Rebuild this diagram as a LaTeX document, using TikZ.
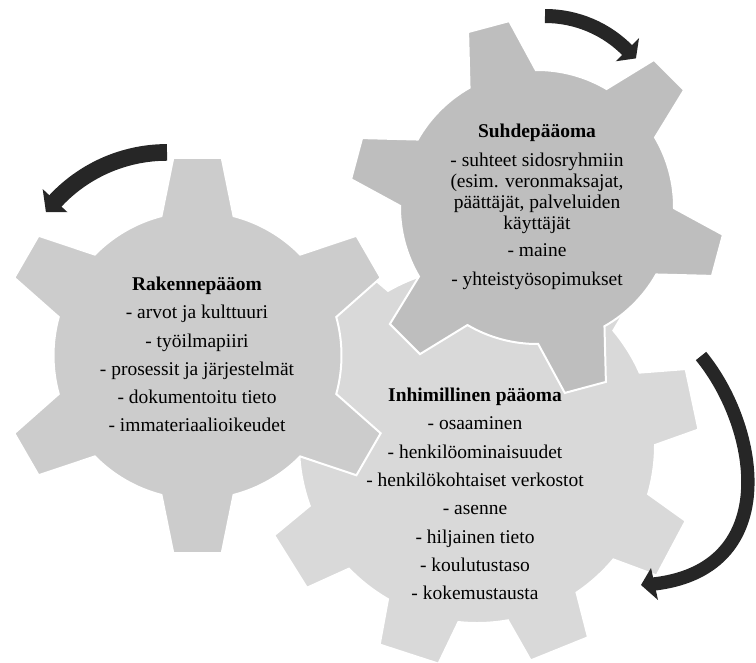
\documentclass[tikz,border=0pt]{standalone}
\usepackage{fontspec}
\setmainfont{Liberation Serif}
\usetikzlibrary{positioning}

\definecolor{gearlight}{HTML}{D9D9D9}
\definecolor{gearmid}{HTML}{CCCCCC}
\definecolor{geardark}{HTML}{BEBEBE}
\definecolor{arrowblack}{HTML}{262626}

\begin{document}
\begin{tikzpicture}[x=0.75pt, y=0.75pt,
      gear/.style = {draw=white, line width=1.5pt},
      pics/cog/.style n args = {6}{code = {
        % #1 teeth, #2 first tooth, #3 body radius, #4 tip radius, #5 tip half angle, #6 root half angle
        \path[pic actions] ({#2-#6}:#3)
          \foreach \k in {1,...,#1} {
            -- ({#2+(\k-1)*360/#1-#5}:#4) -- ({#2+(\k-1)*360/#1+#5}:#4)
            -- ({#2+(\k-1)*360/#1+#6}:#3)
            arc[start angle={#2+(\k-1)*360/#1+#6}, end angle={#2+\k*360/#1-#6}, radius=#3]
          } -- cycle;
      }},
      txt/.style = {align=center, font=\fontsize{14.6}{21.2}\selectfont},
      band/.style = {draw=arrowblack},
      head/.style = {fill=arrowblack}]
    \useasboundingbox (0,0) rectangle (756,662);
    \clip (0,0) rectangle (756,662);

    % gears
    \pic[gear, fill=gearlight] at (477,217) {cog={9}{12}{178}{222}{8}{12}};
    \pic[gear, fill=gearmid] at (197.5,306.5) {cog={6}{90}{144}{199}{7}{14.5}};
    \pic[gear, fill=geardark] at (537,455) {cog={6}{105}{137}{188}{6.5}{14.5}};

    % labels
    \node[txt] (rakenne) at (197,307.5) {\textbf{Rakennepääom}\\
      - arvot ja kulttuuri\\ - työilmapiiri\\ - prosessit ja järjestelmät\\
      - dokumentoitu tieto\\ - immateriaalioikeudet};
    \node[txt, font=\fontsize{14.6}{15.75}\selectfont] (suhde) at (537,455) {\textbf{Suhdepääoma}\\[6pt]
      - suhteet sidosryhmiin\\ (esim. veronmaksajat,\\ päättäjät, palveluiden\\ käyttäjät\\[4.5pt]
      - maine\\[6pt] - yhteistyösopimukset};
    \node[txt] (inhimillinen) at (475,168) {\textbf{Inhimillinen pääoma}\\
      - osaaminen\\ - henkilöominaisuudet\\ - henkilökohtaiset verkostot\\
      - asenne\\ - hiljainen tieto\\ - koulutustaso\\ - kokemustausta};

    % rotation arrows
    \begin{scope}[shift={(545,530)}]
      \draw[band, line width=10.5pt] (90:116) arc[start angle=90, end angle=44, radius=116];
      \fill[head] (45:100) -- (45:133) -- (39:117) -- cycle;
    \end{scope}
    \begin{scope}[shift={(167,357)}]
      \draw[band, line width=12.5pt] (90:152.6) arc[start angle=90, end angle=138, radius=152.6];
      \fill[head] (137:136) -- (137:170) -- (142.5:152.6) -- cycle;
    \end{scope}
    \draw[band, line width=10pt] (701,306) .. controls (760,234) and (783,90) .. (650,77.6);
    \fill[head] (651,94) -- (658,62) -- (641,77) -- cycle;
  \end{tikzpicture}
\end{document}
